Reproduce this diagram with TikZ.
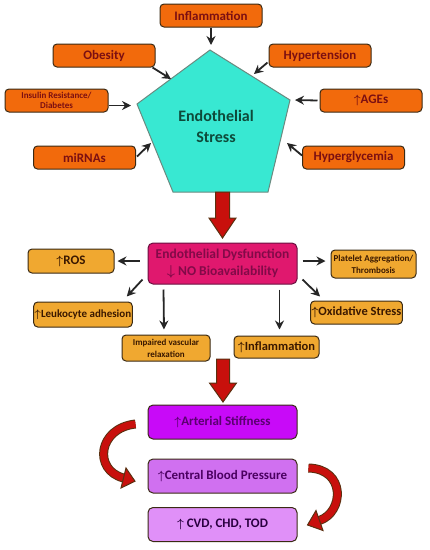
\documentclass[tikz,border=0pt]{standalone}
\usepackage{fontspec}
\setmainfont{Carlito}
\usetikzlibrary{arrows.meta,calc}
\definecolor{orF}{HTML}{F26A0C}
\definecolor{orT}{HTML}{7B0F12}
\definecolor{bord}{HTML}{3A2A14}
\definecolor{pentF}{HTML}{38E8D2}
\definecolor{pentD}{HTML}{6A8A80}
\definecolor{pentT}{HTML}{0E4A3A}
\definecolor{bigR}{HTML}{C8100C}
\definecolor{bigD}{HTML}{5A3010}
\definecolor{edF}{HTML}{E0186E}
\definecolor{edT}{HTML}{820A48}
\definecolor{edD}{HTML}{6A1040}
\definecolor{yoF}{HTML}{F0A830}
\definecolor{yoT}{HTML}{3A1800}
\definecolor{asF}{HTML}{C80AF8}
\definecolor{asT}{HTML}{5A0070}
\definecolor{cbF}{HTML}{D070F0}
\definecolor{cbT}{HTML}{4A0060}
\definecolor{cvF}{HTML}{E090F8}
\definecolor{cvT}{HTML}{2A0040}
\newcommand\upa{$\boldsymbol{\uparrow}$}
\newcommand\dna{$\boldsymbol{\downarrow}$}
\usepackage{amsmath}
\begin{document}
\begin{tikzpicture}[x=1pt,y=-1pt,
  obox/.style={draw=bord, line width=1pt, fill=orF, rounded corners=4pt,
    minimum width=102pt, minimum height=23pt, inner sep=1pt, text=orT,
    font=\bfseries\fontsize{13}{14}\selectfont, align=center},
  ybox/.style={draw=bord, line width=1pt, fill=yoF, rounded corners=4pt,
    minimum height=24pt, inner sep=1pt, text=yoT,
    font=\bfseries\fontsize{12}{13}\selectfont, align=center},
  pbox/.style={draw=bord, line width=1pt, rounded corners=5pt,
    minimum width=149pt, minimum height=34pt, inner sep=1pt,
    font=\bfseries\fontsize{13}{14}\selectfont, align=center},
  arr/.style={draw=black!85, line width=1.8pt, -{Stealth[length=9pt,width=9pt,inset=3pt]}},
  bigarrow/.style={fill=bigR, draw=bigD, line width=1pt, line join=miter},
]
\useasboundingbox (0,0) rectangle (430,550);

% pentagon
\coordinate (pt) at (210,50);
\coordinate (pr) at (290,100);
\coordinate (pbr) at (268,192);
\coordinate (pbl) at (173,192);
\coordinate (pl) at (137,104);
\draw[fill=pentF, draw=pentD, line width=1pt] (pt) -- (pr) -- (pbr) -- (pbl) -- (pl) -- cycle;
\node[text=pentT, font=\bfseries\fontsize{16}{21}\selectfont, align=center] (es) at (216,126) {Endothelial\\Stress};

% top boxes
\node[obox] (infl) at (211,15.5) {Inflammation};
\node[obox] (obes) at (104,55.5) {Obesity};
\node[obox] (hyp) at (320,55.5) {Hypertension};
\node[obox, font=\bfseries\fontsize{9}{10}\selectfont, minimum width=103pt] (ins) at (56.5,100.5) {Insulin Resistance/\\Diabetes};
\node[obox] (ages) at (371,100.5) {\upa AGEs};
\node[obox] (mir) at (84.5,157.5) {miRNAs};
\node[obox] (hgly) at (353.5,157.5) {Hyperglycemia};

\coordinate (eInf) at (211,45);
\coordinate (eObe) at (171,79);
\coordinate (eHyp) at (254,74);
\coordinate (eIns) at (131,105.5);
\coordinate (eAge) at (295,100);
\coordinate (eMir) at (151,143);
\coordinate (eHgl) at (287,143);
\draw[arr] (infl.south) -- (eInf);
\draw[arr] ($(obes.south east)+(-3,0)$) -- (eObe);
\draw[arr] ($(hyp.south west)+(-1,-5)$) -- (eHyp);
\draw[arr] ($(ins.east)+(0,5)$) -- (eIns);
\draw[arr] ($(ages.west)+(-2,0)$) -- (eAge);
\draw[arr] ($(mir.east)+(1,-1)$) -- (eMir);
\draw[arr] ($(hgly.west)+(0,-2)$) -- (eHgl);

% big arrow 1
\draw[bigarrow] (215.5,192) -- (229.5,192) -- (229.5,218) -- (236,218) -- (222.5,238) -- (209,218) -- (215.5,218) -- cycle;

% middle
\node[pbox, fill=edF, draw=edD, text=edT, minimum height=41pt, font=\bfseries\fontsize{13.5}{17}\selectfont] (ed) at (222.5,263.5) {Endothelial Dysfunction\\\dna\ NO Bioavailability};
\node[ybox, minimum width=86pt, font=\bfseries\fontsize{13}{14}\selectfont] (ros) at (71,261) {\upa ROS};
\node[ybox, minimum width=85pt, minimum height=28pt, font=\bfseries\fontsize{9}{12}\selectfont] (plt) at (373.5,264) {Platelet Aggregation/\\Thrombosis};
\node[ybox, minimum width=94pt, minimum height=25pt, font=\bfseries\fontsize{11}{12}\selectfont] (leu) at (83,314.5) {\upa Leukocyte adhesion};
\node[ybox, minimum width=85pt, minimum height=23pt, font=\bfseries\fontsize{12.5}{13}\selectfont] (oxs) at (356.5,312.5) {\upa Oxidative Stress};
\node[ybox, minimum width=88pt, minimum height=26pt, font=\bfseries\fontsize{9}{12}\selectfont] (imp) at (166,348) {Impaired vascular\\relaxation};
\node[ybox, minimum width=85pt, minimum height=22pt, font=\bfseries\fontsize{12.5}{13}\selectfont] (inf2) at (276.5,347) {\upa Inflammation};

\draw[arr] ($(ed.west)+(-8,-2.5)$) -- ($(ros.east)+(3,0)$);
\draw[arr] ($(ed.east)+(5,-2.5)$) -- ($(plt.west)+(-5,-3)$);
\draw[arr] ($(ed.south west)+(-5,-5)$) -- ($(leu.north east)+(-6,-5)$);
\draw[arr] ($(ed.south east)+(5,-5)$) -- ($(oxs.north west)+(10,-4)$);
\draw[arr] ($(ed.south west)+(16,5)$) -- ($(imp.north)+(-2,-5)$);
\draw[arr] ($(ed.south east)+(-18,5)$) -- ($(inf2.north)+(3,-6)$);

% big arrow 2
\draw[bigarrow] (216.5,359) -- (229.5,359) -- (229.5,383) -- (236.5,383) -- (223,402) -- (209.5,383) -- (216.5,383) -- cycle;

% bottom boxes
\node[pbox, fill=asF, text=asT] (as) at (222.5,422) {\upa Arterial Stiffness};
\node[pbox, fill=cbF, text=cbT] (cbp) at (222.5,476) {\upa Central Blood Pressure};
\node[pbox, fill=cvF, text=cvT] (cvd) at (222.5,524.5) {\upa\ CVD, CHD, TOD};

% curved arrows
\coordinate (l1) at ($(as.west)+(-12,2)$);
\coordinate (l2) at ($(cbp.west)+(-24,2)$);
\draw[bigD, line width=9pt] (l1) .. controls (98,428) and (93,470) .. (l2);
\draw[bigR, line width=7pt] (l1) .. controls (98,428) and (93,470) .. (l2);
\draw[bigarrow] ($(l2)+(2.5,-10)$) -- ($(l2)+(11.5,3.2)$) -- ($(l2)+(-2.5,10)$) -- cycle;

\coordinate (r1) at ($(cbp.east)+(11,-8)$);
\coordinate (r2) at ($(cvd.east)+(22,-4)$);
\draw[bigD, line width=9pt] (r1) .. controls (346,469) and (344,512) .. (r2);
\draw[bigR, line width=7pt] (r1) .. controls (346,469) and (344,512) .. (r2);
\draw[bigarrow] ($(r2)+(-3.5,-10)$) -- ($(r2)+(-12,4.5)$) -- ($(r2)+(3.5,10)$) -- cycle;
\end{tikzpicture}
\end{document}
